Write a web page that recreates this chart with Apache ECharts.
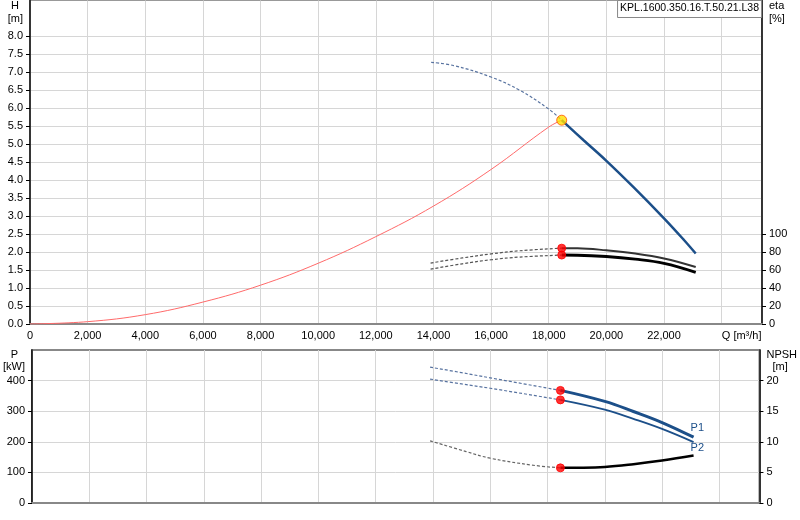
<!DOCTYPE html>
<html>
<head>
<meta charset="utf-8">
<script src="https://cdn.jsdelivr.net/npm/echarts@6/dist/echarts.min.js"></script>
<style>
  html, body { margin: 0; padding: 0; background: #fff; }
  #chart { width: 800px; height: 520px; }
</style>
</head>
<body>
<div id="chart"></div>
<script>
// ---- data ----
var pumpName = 'KPL.1600.350.16.T.50.21.L38';

// system curve (red)
var qSys = [0, 2000, 4000, 6000, 8000, 10000, 12000, 14000, 16000, 18000, 18450];
var hSys = [0, 0.065, 0.26, 0.61, 1.08, 1.69, 2.43, 3.28, 4.30, 5.48, 5.67];

// pump head, outside / inside the operating range
var qHeadOut = [13920, 14700, 16000, 17000, 18000, 18450];
var hHeadOut = [7.28, 7.19, 6.87, 6.5, 5.98, 5.67];
var qHead = [18450, 19200, 20000, 20950, 22000, 22700, 23100];
var hHead = [5.67, 5.12, 4.54, 3.80, 2.94, 2.33, 1.96];

// efficiencies
var qEtaOut = [13900, 15000, 16000, 17000, 18450];
var eta1Out = [67.8, 73.5, 78.0, 81.5, 84.4];
var eta2Out = [61.0, 67.0, 71.5, 74.5, 76.7];
var qEta = [18450, 19000, 20000, 21000, 22000, 23100];
var eta1 = [84.4, 84.3, 82.0, 78.5, 73.0, 63.5];
var eta2 = [76.7, 76.6, 75.2, 72.2, 67.5, 57.5];

// power P1 / P2
var qPOut = [13900, 15000, 16000, 18450];
var p1Out = [444, 426, 409, 368];
var p2Out = [405, 389, 375, 337];
var qP = [18450, 20000, 21000, 22000, 23100];
var p1 = [368, 332, 299, 263, 215];
var p2 = [337, 305, 275, 242, 199];

// NPSH
var qNpshOut = [13900, 15160, 16000, 17480, 18450];
var npshOut = [10.16, 8.4, 7.32, 6.18, 5.74];
var qNpsh = [18450, 19000, 20000, 21000, 22000, 23100];
var npsh = [5.74, 5.76, 5.9, 6.35, 6.94, 7.76];

// duty point
var qDuty = 18450;
var hDuty = 5.67;
var etaDuty = [84.4, 76.7];
var pDuty = [368, 337];
var npshDuty = 5.74;

// tick labels
var qLabels = [0, 2000, 4000, 6000, 8000, 10000, 12000, 14000, 16000, 18000, 20000, 22000, 24000];
var hTicks = [0, 0.5, 1, 1.5, 2, 2.5, 3, 3.5, 4, 4.5, 5, 5.5, 6, 6.5, 7, 7.5, 8];
var etaTicks = [0, 20, 40, 60, 80, 100];
var pTicks = [0, 100, 200, 300, 400];
var npshTicks = [0, 5, 10, 15, 20];

function pairs(xs, ys) {
  return xs.map(function (x, i) { return [x, ys[i]]; });
}

var blue = '#1c4f89';
var font = 'Liberation Sans, Arial, sans-serif';
var txt = { color: '#000', fontSize: 11, fontFamily: font };

var myChart = echarts.init(document.getElementById('chart'), null, { renderer: 'canvas' });

function line(name, x, y, xs, ys, color, width, dashed) {
  return {
    name: name, type: 'line', xAxisIndex: x, yAxisIndex: y,
    data: pairs(xs, ys), smooth: 0.4, showSymbol: false, symbol: 'none',
    silent: true, animation: false,
    lineStyle: { color: color, width: width, type: dashed ? [3, 2] : 'solid' }
  };
}

function dots(x, y, data, color, border, size) {
  return {
    type: 'scatter', xAxisIndex: x, yAxisIndex: y, data: data,
    symbolSize: size, silent: true, animation: false, z: 5,
    itemStyle: { color: color, borderColor: border, borderWidth: 1 }
  };
}

var option = {
  backgroundColor: '#fff',
  animation: false,
  textStyle: { fontFamily: font },
  title: {
    text: pumpName,
    right: 38, top: 0,
    padding: [3, 3, 4, 3],
    borderColor: '#888', borderWidth: 1,
    backgroundColor: '#fff',
    textStyle: { fontSize: 10.5, fontWeight: 'normal', color: '#000', fontFamily: font }
  },
  grid: [
    { left: 30, right: 38, top: 0, height: 324, show: true, borderColor: '#999', borderWidth: 1 },
    { left: 30, right: 38, top: 350, height: 153, show: true, borderColor: '#888', borderWidth: 2 }
  ],
  xAxis: [
    {
      type: 'value', gridIndex: 0, min: 0, max: 25400, interval: 2000,
      axisLine: { lineStyle: { color: '#888', width: 2 } },
      axisTick: { show: false },
      splitLine: { lineStyle: { color: '#d6d6d6' } },
      axisLabel: Object.assign({}, txt, {
        margin: 6,
        customValues: qLabels,
        formatter: function (v) {
          if (v === 24000) return '{q|Q [m³/h]}';
          return v.toLocaleString('en-US');
        },
        rich: { q: { fontSize: 11, fontFamily: font, color: '#000', padding: [0, 0, 0, 40] } }
      })
    },
    {
      type: 'value', gridIndex: 1, min: 0, max: 25400, interval: 2000,
      axisLine: { lineStyle: { color: '#888', width: 2 } },
      axisTick: { show: false },
      axisLabel: { show: false },
      splitLine: { lineStyle: { color: '#d6d6d6' } }
    }
  ],
  yAxis: [
    {
      type: 'value', gridIndex: 0, min: 0, max: 9, interval: 0.5, position: 'left',
      axisLine: { show: true, lineStyle: { color: '#000', width: 1.5 } },
      axisTick: { show: true, length: 4, customValues: hTicks, lineStyle: { color: '#000' } },
      splitLine: { lineStyle: { color: '#d6d6d6' } },
      axisLabel: Object.assign({}, txt, {
        margin: 7,
        showMaxLabel: true,
        customValues: hTicks.concat([8.5, 9]),
        formatter: function (v) {
          if (v === 9) return '{n|H}';
          if (v === 8.5) return '{u|[m]}';
          return v.toFixed(1);
        },
        rich: {
          n: { fontSize: 11, fontFamily: font, color: '#000', padding: [10, 4, 0, 0] },
          u: { fontSize: 11, fontFamily: font, color: '#000', padding: [0, 0, 0, 0] }
        }
      })
    },
    {
      type: 'value', gridIndex: 0, min: 0, max: 360, interval: 20, position: 'right',
      axisLine: { show: true, lineStyle: { color: '#000', width: 1.5 } },
      axisTick: { show: true, length: 4, customValues: etaTicks, lineStyle: { color: '#000' } },
      splitLine: { show: false },
      axisLabel: Object.assign({}, txt, {
        margin: 7,
        showMaxLabel: true,
        customValues: etaTicks.concat([340, 360]),
        formatter: function (v) {
          if (v === 360) return '{n|eta}';
          if (v === 340) return '[%]';
          return String(v);
        },
        rich: { n: { fontSize: 11, fontFamily: font, color: '#000', padding: [10, 0, 0, 0] } }
      })
    },
    {
      type: 'value', gridIndex: 1, min: 0, max: 500, interval: 100, position: 'left',
      axisLine: { show: true, lineStyle: { color: '#000', width: 1.5 } },
      axisTick: { show: true, length: 4, customValues: pTicks, lineStyle: { color: '#000' } },
      splitLine: { lineStyle: { color: '#d6d6d6' } },
      axisLabel: Object.assign({}, txt, {
        margin: 7,
        lineHeight: 11,
        customValues: pTicks.concat([446, 484]),
        formatter: function (v) {
          if (v === 484) return '{n|P}';
          if (v === 446) return '[kW]';
          return String(v);
        },
        rich: { n: { fontSize: 11, lineHeight: 11, fontFamily: font, color: '#000', padding: [0, 7, 0, 0] } }
      })
    },
    {
      type: 'value', gridIndex: 1, min: 0, max: 25, interval: 5, position: 'right',
      axisLine: { show: true, lineStyle: { color: '#000', width: 1.5 } },
      axisTick: { show: true, length: 4, customValues: npshTicks, lineStyle: { color: '#000' } },
      splitLine: { show: false },
      axisLabel: Object.assign({}, txt, {
        margin: 7,
        lineHeight: 11,
        customValues: npshTicks.concat([22.3, 24.2]),
        formatter: function (v) {
          if (v === 24.2) return 'NPSH';
          if (v === 22.3) return '{u|[m]}';
          return String(v);
        },
        rich: {
          u: { fontSize: 11, lineHeight: 11, fontFamily: font, color: '#000', padding: [0, 0, 0, 6] }
        }
      })
    }
  ],
  series: [
    line('system', 0, 0, qSys, hSys, '#ff6a6a', 1, false),
    line('H out', 0, 0, qHeadOut, hHeadOut, '#5873a0', 1.2, true),
    line('H', 0, 0, qHead, hHead, blue, 2.5, false),
    line('eta1 out', 0, 1, qEtaOut, eta1Out, '#555', 1.2, true),
    line('eta2 out', 0, 1, qEtaOut, eta2Out, '#555', 1.2, true),
    line('eta1', 0, 1, qEta, eta1, '#333', 2, false),
    line('eta2', 0, 1, qEta, eta2, '#000', 3, false),
    dots(0, 1, [[qDuty, etaDuty[0]], [qDuty, etaDuty[1]]], '#ff0000', '#ff0000', 8),
    dots(0, 0, [[qDuty, hDuty]], '#ffe000', '#ff5000', 10),

    line('P1 out', 1, 2, qPOut, p1Out, '#5873a0', 1.2, true),
    line('P2 out', 1, 2, qPOut, p2Out, '#5873a0', 1.2, true),
    Object.assign(line('P1', 1, 2, qP, p1, blue, 3, false), {
      endLabel: { show: true, formatter: 'P1', color: blue, fontSize: 11, fontFamily: font, offset: [-11, -9] }
    }),
    Object.assign(line('P2', 1, 2, qP, p2, blue, 1.8, false), {
      endLabel: { show: true, formatter: 'P2', color: blue, fontSize: 11, fontFamily: font, offset: [-11, 6] }
    }),
    line('NPSH out', 1, 3, qNpshOut, npshOut, '#666', 1.2, true),
    line('NPSH', 1, 3, qNpsh, npsh, '#000', 2.5, false),
    dots(1, 2, [[qDuty, pDuty[0]], [qDuty, pDuty[1]]], '#ff0000', '#ff0000', 8),
    dots(1, 3, [[qDuty, npshDuty]], '#ff0000', '#ff0000', 8)
  ]
};

myChart.setOption(option);
</script>
</body>
</html>
